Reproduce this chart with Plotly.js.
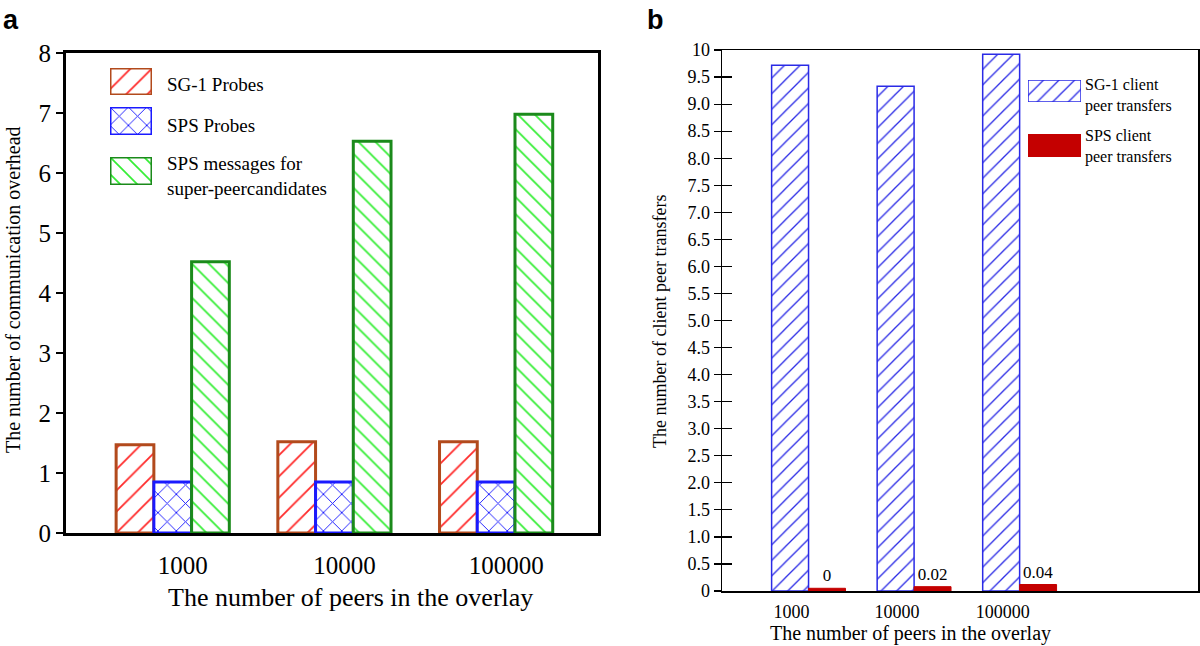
<!DOCTYPE html>
<html>
<head>
<meta charset="utf-8">
<script src="https://cdn.plot.ly/plotly-3.0.1.min.js"></script>
<style>html,body{margin:0;padding:0;background:#fff;}#chart{width:1200px;height:646px;}</style>
</head>
<body>
<div id="chart"></div>
<script>
// ---------- data ----------
const peerCounts = ['1000', '10000', '100000'];

// panel a
const sg1Probes = [1.47, 1.52, 1.52];
const spsProbes = [0.85, 0.85, 0.85];
const spsCandidateMsgs = [4.52, 6.53, 6.98];
const leftYTicks = [0, 1, 2, 3, 4, 5, 6, 7, 8];

// panel b
const sg1ClientTransfers = [9.72, 9.33, 9.92];
const spsClientTransfers = [0.05, 0.08, 0.12];
const spsClientLabels = ['0', '0.02', '0.04'];
const rightYTicks = [0, 0.5, 1, 1.5, 2, 2.5, 3, 3.5, 4, 4.5, 5, 5.5, 6, 6.5, 7, 7.5, 8, 8.5, 9, 9.5, 10];
const rightYTickText = ['0', '0.5', '1.0', '1.5', '2.0', '2.5', '3.0', '3.5', '4.0', '4.5', '5.0', '5.5', '6.0', '6.5', '7.0', '7.5', '8.0', '8.5', '9.0', '9.5', '10'];

// legend swatch (unit box filling its own small axis)
const SWATCH_X = [0];
const SWATCH_Y = [1];

// ---------- styles ----------
const SERIF = 'Liberation Serif, Times New Roman, serif';
const W = 1200, H = 646;
const px = v => v / W;
const py = v => 1 - v / H;

const styleSG1 = {color: 'white', line: {color: '#b24a1c', width: 3},
  pattern: {shape: '/', fgcolor: '#ff2a2a', bgcolor: 'white', size: 15, solidity: 0.12}};
const styleSPS = {color: 'white', line: {color: '#1a1aff', width: 3},
  pattern: {shape: 'x', fgcolor: '#1a1aff', bgcolor: 'white', size: 13, solidity: 0.14}};
const styleGreen = {color: 'white', line: {color: '#1b8a1b', width: 3},
  pattern: {shape: '\\', fgcolor: '#33ee33', bgcolor: 'white', size: 12, solidity: 0.14}};
const styleBlueR = {color: 'white', line: {color: '#2a2ae6', width: 1.5},
  pattern: {shape: '/', fgcolor: '#2a2ae6', bgcolor: 'white', size: 11, solidity: 0.12}};
const styleRedR = {color: '#c40000', line: {color: '#c40000', width: 1}};

const traces = [
  {type: 'bar', x: peerCounts, y: sg1Probes, name: 'SG-1 Probes', marker: styleSG1, xaxis: 'x', yaxis: 'y', showlegend: false, hoverinfo: 'y'},
  {type: 'bar', x: peerCounts, y: spsProbes, name: 'SPS Probes', marker: styleSPS, xaxis: 'x', yaxis: 'y', showlegend: false, hoverinfo: 'y'},
  {type: 'bar', x: peerCounts, y: spsCandidateMsgs, name: 'SPS messages for super-peercandidates', marker: styleGreen, xaxis: 'x', yaxis: 'y', showlegend: false, hoverinfo: 'y'},

  {type: 'bar', x: peerCounts, y: sg1ClientTransfers, name: 'SG-1 client peer transfers', marker: styleBlueR, xaxis: 'x2', yaxis: 'y2', showlegend: false, hoverinfo: 'y'},
  {type: 'bar', x: peerCounts, y: spsClientTransfers, name: 'SPS client peer transfers', marker: styleRedR, xaxis: 'x2', yaxis: 'y2', showlegend: false,
   text: spsClientLabels, textposition: 'outside', cliponaxis: false,
   textfont: {family: SERIF, size: 17, color: '#000'}, hoverinfo: 'text'},
  // empty trace to draw inside tick marks of panel b
  {type: 'scatter', x: [], y: [], xaxis: 'x2', yaxis: 'y3', showlegend: false, hoverinfo: 'skip'},

  // legend swatches
  {type: 'bar', x: SWATCH_X, y: SWATCH_Y, width: 1, marker: styleSG1, xaxis: 'x3', yaxis: 'y4', showlegend: false, hoverinfo: 'skip', cliponaxis: false},
  {type: 'bar', x: SWATCH_X, y: SWATCH_Y, width: 1, marker: styleSPS, xaxis: 'x3', yaxis: 'y5', showlegend: false, hoverinfo: 'skip', cliponaxis: false},
  {type: 'bar', x: SWATCH_X, y: SWATCH_Y, width: 1, marker: styleGreen, xaxis: 'x3', yaxis: 'y6', showlegend: false, hoverinfo: 'skip', cliponaxis: false},
  {type: 'bar', x: SWATCH_X, y: SWATCH_Y, width: 1, marker: styleBlueR, xaxis: 'x4', yaxis: 'y7', showlegend: false, hoverinfo: 'skip', cliponaxis: false},
  {type: 'bar', x: SWATCH_X, y: SWATCH_Y, width: 1, marker: styleRedR, xaxis: 'x4', yaxis: 'y8', showlegend: false, hoverinfo: 'skip', cliponaxis: false}
];

const hiddenAxis = (extra) => Object.assign({visible: false, fixedrange: true, showgrid: false, zeroline: false}, extra);

const layout = {
  width: W, height: H,
  margin: {l: 0, r: 0, t: 0, b: 0},
  paper_bgcolor: 'white', plot_bgcolor: 'white',
  barmode: 'group', bargap: 0.3, bargroupgap: 0,
  font: {family: SERIF, color: '#000'},
  showlegend: false,
  xaxis: {
    domain: [px(66), px(598)], anchor: 'y', type: 'category',
    range: [-0.66, 2.63], showline: true, linecolor: '#000', linewidth: 3, mirror: true,
    ticks: '', showgrid: false, zeroline: false,
    tickfont: {family: SERIF, size: 25, color: '#000'}, ticklabelshift: 10, ticklabelstandoff: 8
  },
  yaxis: {
    domain: [py(533), py(53)], anchor: 'x', range: [0, 8],
    showline: true, linecolor: '#000', linewidth: 3, mirror: true,
    ticks: 'outside', ticklen: 7, tickwidth: 1.5, tickcolor: '#000',
    tickvals: leftYTicks, showgrid: false, zeroline: false,
    tickfont: {family: SERIF, size: 25, color: '#000'}
  },
  xaxis2: {
    domain: [px(722), px(1198)], anchor: 'y2', type: 'category',
    range: [-0.82, 3.69], showline: true, linecolor: '#000', linewidth: 1.5, mirror: true,
    ticks: '', showgrid: false, zeroline: false,
    tickfont: {family: SERIF, size: 18, color: '#000'}, ticklabelshift: -17, ticklabelstandoff: 4
  },
  yaxis2: {
    domain: [py(591), py(50)], anchor: 'x2', range: [0, 10],
    showline: true, linecolor: '#000', linewidth: 1.5, mirror: true,
    ticks: 'outside', ticklen: 7, tickwidth: 1.2, tickcolor: '#000',
    tickvals: rightYTicks, ticktext: rightYTickText, showgrid: false, zeroline: false,
    tickfont: {family: SERIF, size: 18, color: '#000'}
  },
  yaxis3: {
    overlaying: 'y2', anchor: 'x2', side: 'left', range: [0, 10],
    showline: false, ticks: 'inside', ticklen: 10, tickwidth: 1.2, tickcolor: '#000',
    tickvals: rightYTicks.slice(0, -1), showticklabels: false, showgrid: false, zeroline: false
  },
  // legend swatch axes
  xaxis3: hiddenAxis({domain: [px(110), px(152)], anchor: 'y4', range: [-0.5, 0.5]}),
  xaxis4: hiddenAxis({domain: [px(1028), px(1081)], anchor: 'y7', range: [-0.5, 0.5]}),
  yaxis4: hiddenAxis({domain: [py(95), py(68)], anchor: 'x3', range: [0, 1]}),
  yaxis5: hiddenAxis({domain: [py(135), py(107)], anchor: 'x3', range: [0, 1]}),
  yaxis6: hiddenAxis({domain: [py(185), py(157)], anchor: 'x3', range: [0, 1]}),
  yaxis7: hiddenAxis({domain: [py(102), py(80)], anchor: 'x4', range: [0, 1]}),
  yaxis8: hiddenAxis({domain: [py(157), py(134)], anchor: 'x4', range: [0, 1]}),
  annotations: [
    // panel labels
    {text: '<b>a</b>', xref: 'paper', yref: 'paper', x: px(1), y: py(3), xanchor: 'left', yanchor: 'top', showarrow: false,
     font: {family: 'Liberation Sans, Arial, sans-serif', size: 27, color: '#000'}},
    {text: '<b>b</b>', xref: 'paper', yref: 'paper', x: px(645), y: py(3), xanchor: 'left', yanchor: 'top', showarrow: false,
     font: {family: 'Liberation Sans, Arial, sans-serif', size: 27, color: '#000'}},
    // axis titles
    {text: 'The number of peers in the overlay', xref: 'paper', yref: 'paper', x: px(350), y: py(597), xanchor: 'center', yanchor: 'middle', showarrow: false,
     font: {family: SERIF, size: 26, color: '#000'}},
    {text: 'The number of communication overhead', xref: 'paper', yref: 'paper', x: px(13), y: py(290), xanchor: 'center', yanchor: 'middle', textangle: -90, showarrow: false,
     font: {family: SERIF, size: 20, color: '#000'}},
    {text: 'The number of peers in the overlay', xref: 'paper', yref: 'paper', x: px(910), y: py(633), xanchor: 'center', yanchor: 'middle', showarrow: false,
     font: {family: SERIF, size: 20, color: '#000'}},
    {text: 'The number of client peer transfers', xref: 'paper', yref: 'paper', x: px(660), y: py(322), xanchor: 'center', yanchor: 'middle', textangle: -90, showarrow: false,
     font: {family: SERIF, size: 18, color: '#000'}},
    // legend texts panel a
    {text: 'SG-1 Probes', xref: 'paper', yref: 'paper', x: px(165), y: py(85), xanchor: 'left', yanchor: 'middle', showarrow: false,
     font: {family: SERIF, size: 19, color: '#000'}},
    {text: 'SPS Probes', xref: 'paper', yref: 'paper', x: px(165), y: py(125), xanchor: 'left', yanchor: 'middle', showarrow: false,
     font: {family: SERIF, size: 19, color: '#000'}},
    {text: 'SPS messages for<br>super-peercandidates', xref: 'paper', yref: 'paper', x: px(165), y: py(176), xanchor: 'left', yanchor: 'middle', align: 'left', showarrow: false,
     font: {family: SERIF, size: 19, color: '#000'}},
    // legend texts panel b
    {text: 'SG-1 client<br>peer transfers', xref: 'paper', yref: 'paper', x: px(1083), y: py(95), xanchor: 'left', yanchor: 'middle', align: 'left', showarrow: false,
     font: {family: SERIF, size: 16, color: '#000'}},
    {text: 'SPS client<br>peer transfers', xref: 'paper', yref: 'paper', x: px(1083), y: py(147), xanchor: 'left', yanchor: 'middle', align: 'left', showarrow: false,
     font: {family: SERIF, size: 16, color: '#000'}}
  ]
};

Plotly.newPlot('chart', traces, layout, {staticPlot: true, displayModeBar: false});
</script>
</body>
</html>
